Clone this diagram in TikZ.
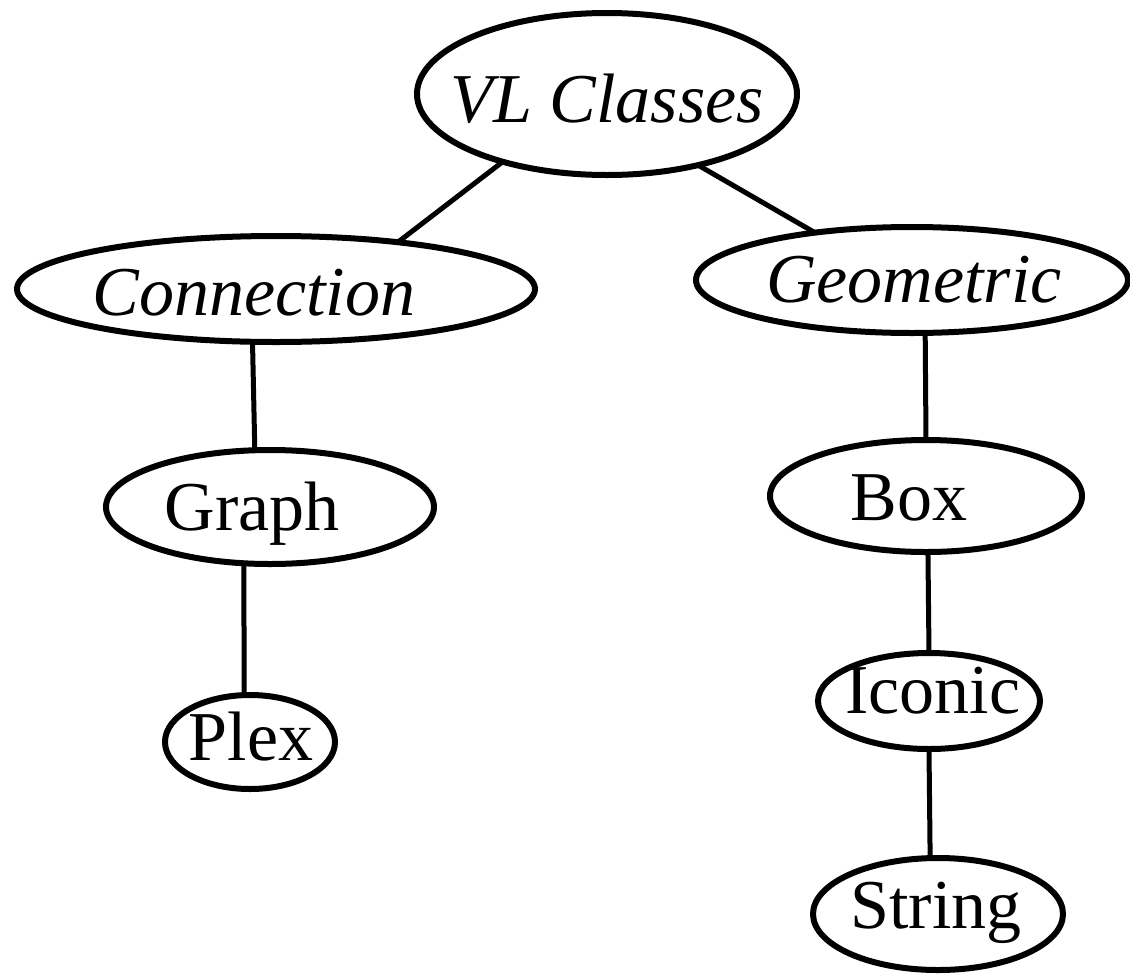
\documentclass[tikz,border=0pt]{standalone}
\usepackage{fontspec}
\setmainfont{Liberation Serif}
\usetikzlibrary{shapes.geometric}
\tikzset{
  cls/.style={ellipse, draw=black, line width=6pt, inner sep=0pt, outer sep=0pt},
  lbl/.style={anchor=base, inner sep=0pt, font=\fontsize{70}{80}\selectfont},
  ilbl/.style={lbl, font=\fontsize{70}{80}\selectfont\itshape},
  link/.style={draw=black, line width=5pt}
}
\begin{document}
\begin{tikzpicture}[x=1pt, y=-1pt]
\useasboundingbox (0,0) rectangle (1130,975);

% class ellipses
\node[cls, minimum width=380pt, minimum height=162pt] (vl)     at (607,94)  {};
\node[cls, minimum width=518pt, minimum height=106pt] (conn)   at (276,289) {};
\node[cls, minimum width=432pt, minimum height=106pt] (geo)    at (912,280) {};
\node[cls, minimum width=328pt, minimum height=114pt] (graph)  at (270,507) {};
\node[cls, minimum width=170pt, minimum height=94pt]  (plex)   at (250,742) {};
\node[cls, minimum width=312pt, minimum height=112pt] (box)    at (926,496) {};
\node[cls, minimum width=222pt, minimum height=96pt]  (iconic) at (929,701) {};
\node[cls, minimum width=250pt, minimum height=112pt] (string) at (938,914) {};

% class names
\node[ilbl] (vl-t)     at (607,122) {VL Classes};
\node[ilbl] (conn-t)   at (254,315) {Connection};
\node[ilbl] (geo-t)    at (914,302) {Geometric};
\node[lbl]  (graph-t)  at (252,530) {Graph};
\node[lbl]  (plex-t)   at (251,760) {Plex};
\node[lbl]  (box-t)    at (909,520) {Box};
\node[lbl]  (iconic-t) at (933,713) {Iconic};
\node[lbl]  (string-t) at (936,928) {String};

% hierarchy links
\draw[link] (vl.213.2) -- (conn.21.5);
\draw[link] (vl.-38.5) -- (geo.154.3);
\draw[link] (conn.246.5) -- (graph.105.7);
\draw[link] (graph.245.5) -- (plex.97.3);
\draw[link] (geo.284.8) -- (box.north);
\draw[link] (box.272) -- (iconic.north);
\draw[link] (iconic.south) -- (string.98);
\end{tikzpicture}
\end{document}
